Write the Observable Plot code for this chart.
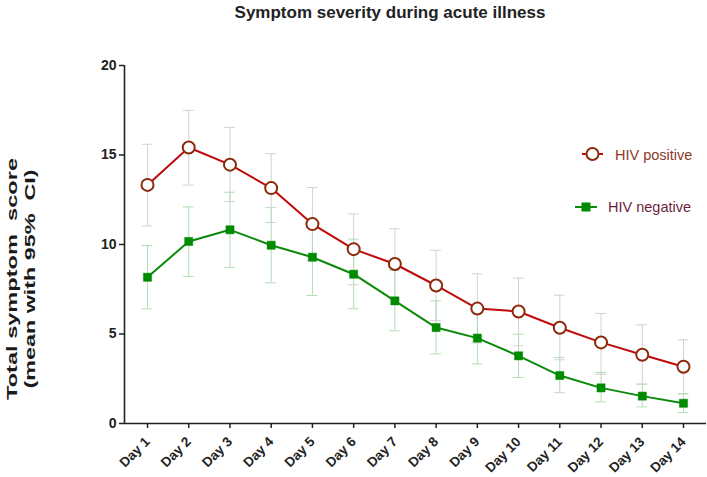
<!DOCTYPE html>
<html>
<head>
<meta charset="utf-8">
<script src="https://cdn.jsdelivr.net/npm/d3@7"></script>
<script src="https://cdn.jsdelivr.net/npm/@observablehq/plot@0.6"></script>
<style>
  html, body { margin: 0; padding: 0; background: #fff; }
  #chart { width: 707px; height: 477px; }
</style>
</head>
<body>
<div id="chart"></div>
<script>
const days = [1, 2, 3, 4, 5, 6, 7, 8, 9, 10, 11, 12, 13, 14];
const hivPos  = [13.33, 15.42, 14.46, 13.15, 11.14, 9.74, 8.91, 7.71, 6.42, 6.26, 5.35, 4.53, 3.84, 3.17];
const posLow  = [11.04, 13.32, 12.40, 11.23, 9.10, 7.75, 6.95, 5.75, 4.50, 4.34, 3.56, 2.75, 2.20, 1.66];
const posHigh = [15.60, 17.49, 16.54, 15.07, 13.18, 11.71, 10.88, 9.68, 8.36, 8.12, 7.17, 6.15, 5.51, 4.68];
const hivNeg  = [8.17, 10.17, 10.82, 9.96, 9.29, 8.34, 6.85, 5.36, 4.77, 3.78, 2.68, 1.99, 1.53, 1.13];
const negLow  = [6.41, 8.21, 8.72, 7.86, 7.15, 6.41, 5.18, 3.89, 3.33, 2.57, 1.72, 1.21, 0.93, 0.61];
const negHigh = [9.94, 12.10, 12.92, 12.06, 11.43, 10.30, 8.55, 6.85, 6.20, 4.99, 3.69, 2.85, 2.20, 1.66];
const yTicks = [0, 5, 10, 15, 20];
const dayLabels = days.map(d => "Day " + d);
const seriesNames = ["HIV positive", "HIV negative"];

const pos = days.map((d, i) => ({day: d, v: hivPos[i], lo: posLow[i], hi: posHigh[i]}));
const neg = days.map((d, i) => ({day: d, v: hivNeg[i], lo: negLow[i], hi: negHigh[i]}));

const capHalf = 0.13;
const font = "'Liberation Sans', Arial, Helvetica, sans-serif";
const redLine = "#c00a0a", redMarker = "#8b2a0a", ciRed = "#d2d2d2";
const greenLine = "#0a8a0a", greenMarker = "#008a00", ciGreen = "#b4dcb4";

const errorMarks = (data, color) => [
  Plot.ruleX(data, {x: "day", y1: "lo", y2: "hi", stroke: color, strokeWidth: 1}),
  Plot.ruleY(data, {y: "hi", x1: d => d.day - capHalf, x2: d => d.day + capHalf, stroke: color, strokeWidth: 1}),
  Plot.ruleY(data, {y: "lo", x1: d => d.day - capHalf, x2: d => d.day + capHalf, stroke: color, strokeWidth: 1})
];

const chart = Plot.plot({
  width: 707,
  height: 477,
  marginLeft: 124,
  marginRight: 1,
  marginTop: 65,
  marginBottom: 54,
  style: {fontFamily: font, background: "#fff", overflow: "visible"},
  x: {domain: [0.442, 14.558], ticks: days, tickFormat: d => dayLabels[d - 1]},
  y: {domain: [0, 20], ticks: yTicks},
  marks: [
    ...errorMarks(pos, ciRed),
    ...errorMarks(neg, ciGreen),
    Plot.line(pos, {x: "day", y: "v", stroke: redLine, strokeWidth: 2}),
    Plot.line(neg, {x: "day", y: "v", stroke: greenLine, strokeWidth: 2}),
    Plot.dot(pos, {x: "day", y: "v", r: 6, fill: "#fff", stroke: redMarker, strokeWidth: 2}),
    Plot.dot(neg, {x: "day", y: "v", symbol: "square", r: 4.6, fill: greenMarker, stroke: greenMarker, strokeWidth: 0.5}),
    Plot.axisY({ticks: yTicks, tickSize: 5, tickPadding: 3, label: null, stroke: "#222", fill: "#222", strokeWidth: 1.5}),
    Plot.axisX({ticks: days, tickFormat: d => dayLabels[d - 1], tickSize: 5, tickRotate: -45, tickPadding: 11, label: null, stroke: "#222", fill: "#222", strokeWidth: 1.5}),
    Plot.ruleX([0.442], {stroke: "#222", strokeWidth: 1.6}),
    Plot.ruleY([0], {stroke: "#222", strokeWidth: 1.6})
  ]
});

document.getElementById("chart").appendChild(chart);

const svg = d3.select(chart);
svg.selectAll('[aria-label="y-axis tick label"] text, [aria-label="y-axis tick label"]')
  .style("font-size", "14px").style("font-weight", "bold");
svg.selectAll('[aria-label="x-axis tick label"] text, [aria-label="x-axis tick label"]')
  .style("font-size", "13.5px").style("font-weight", "bold");

// Title
svg.append("text")
  .attr("x", 390).attr("y", 18)
  .attr("text-anchor", "middle")
  .style("font-family", font).style("font-size", "17px").style("font-weight", "bold")
  .attr("fill", "#222")
  .text("Symptom severity during acute illness");

// Y-axis label (two lines, stretched along the text direction as in the reference)
const ylabels = ["Total symptom\u00a0 score", "(mean with 95%\u00a0 CI)"];
const ylx = [16.5, 34.5], yllen = [242, 219];
ylabels.forEach((t, i) => {
  svg.append("text")
    .attr("transform", `translate(${ylx[i]},279) rotate(-90)`)
    .attr("x", -yllen[i] / 2).attr("y", 0)
    .attr("text-anchor", "start")
    .attr("textLength", yllen[i]).attr("lengthAdjust", "spacingAndGlyphs")
    .style("font-family", font).style("font-size", "15.5px").style("font-weight", "bold")
    .attr("fill", "#1a1a1a")
    .text(t);
});

// Legend
const lg = svg.append("g").style("font-family", font).style("font-size", "14.5px").attr("text-anchor", "start");
lg.append("line").attr("x1", 582).attr("x2", 603).attr("y1", 154).attr("y2", 154).attr("stroke", redLine).attr("stroke-width", 2);
lg.append("circle").attr("cx", 592.5).attr("cy", 154).attr("r", 6).attr("fill", "#fff").attr("stroke", redMarker).attr("stroke-width", 2);
lg.append("text").attr("x", 615).attr("y", 160).attr("text-anchor", "start").attr("fill", "#8b3a1f").text(seriesNames[0]);
lg.append("line").attr("x1", 575).attr("x2", 597).attr("y1", 207).attr("y2", 207).attr("stroke", greenLine).attr("stroke-width", 2);
lg.append("rect").attr("x", 581.5).attr("y", 202.5).attr("width", 9).attr("height", 9).attr("fill", greenMarker);
lg.append("text").attr("x", 608).attr("y", 212).attr("text-anchor", "start").attr("fill", "#6b1f3d").text(seriesNames[1]);
</script>
</body>
</html>
